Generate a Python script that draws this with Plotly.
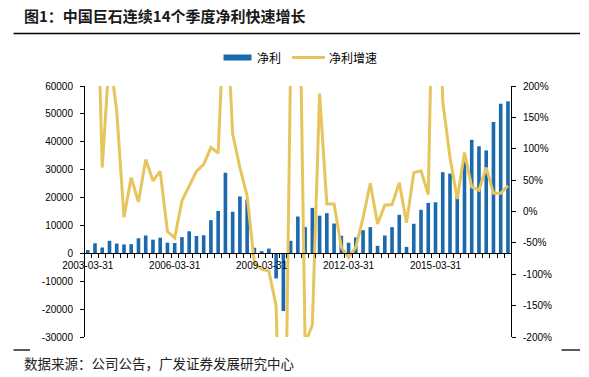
import plotly.graph_objects as go

# Quarter-end dates, 2003-03-31 .. 2017-09-30
quarters = [f"{y}-{md}" for y in range(2003, 2018) for md in ["03-31", "06-30", "09-30", "12-31"]][:59]

# 净利 (left axis)
net_profit = [1200, 3600, 2100, 4500, 3500, 3200, 3300, 5400, 6400, 4900,
              5600, 3800, 3700, 5800, 7900, 6200, 6500, 11900, 15200, 28900,
              14900, 20400, 19300, 2000, 800, 1700, -9000, -20700, 4500, 13200,
              9400, 16300, 13500, 14400, 10700, 6300, 3800, 5700, 8300, 9400,
              2700, 6400, 9400, 13800, 2300, 10600, 15600, 18100, 18300, 29100,
              28600, 20500, 33000, 40700, 38400, 36900, 47100, 53600, 54500]

# 净利增速 in % (right axis)
growth = [None, 500, 70, 250, 160, -9, 54, 15, 83, 49,
          64, -32, -42, 17, 41, 64, 75, 102, 93, 360,
          124, 70, 25, -82, -92, -95, -150, -600, 240, 550,
          -210, -181, 188, 12, 12, -57, -73, -57, -10, 45,
          -20, 10, 11, 46, -18, 62, 65, 27, 600, 175,
          86, 20, 94, 39, 34, 70, 29, 29, 41]

x_labels = ["2003-03-31", "2006-03-31", "2009-03-31", "2012-03-31", "2015-03-31"]
left_ticks = [60000, 50000, 40000, 30000, 20000, 10000, 0, -10000, -20000, -30000]
right_ticks = [200, 150, 100, 50, 0, -50, -100, -150, -200]

title_text = "图1：中国巨石连续14个季度净利快速增长"
source_text = "数据来源：公司公告，广发证券发展研究中心"
legend_names = ["净利", "净利增速"]

BLUE = "#1B6AAE"
YELLOW = "#E6C65C"
LATIN = "Liberation Sans, Arial, sans-serif"
CJK = "Noto Sans CJK SC, sans-serif"

xpos = list(range(len(quarters)))

fig = go.Figure()
fig.add_trace(go.Bar(x=xpos, y=net_profit, customdata=quarters, name=legend_names[0],
                     marker=dict(color=BLUE, line=dict(width=0)), width=0.5,
                     showlegend=False))
fig.add_trace(go.Scatter(x=xpos, y=growth, customdata=quarters, name=legend_names[1],
                         mode="lines", line=dict(color=YELLOW, width=3),
                         yaxis="y2", showlegend=False))

fig.update_layout(
    width=589, height=377,
    margin=dict(l=85, r=78, t=86, b=40),
    paper_bgcolor="white", plot_bgcolor="white",
    showlegend=False,
    xaxis=dict(
        range=[-0.38, 58.42], anchor="free", position=1/3,
        tickmode="array", tickvals=[quarters.index(l) for l in x_labels], ticktext=x_labels,
        ticks="", showline=True, linecolor="black", linewidth=1,
        showgrid=False, zeroline=False,
        tickfont=dict(family=LATIN, size=10, color="black"),
        ticklabelstandoff=3,
        minor=dict(tickmode="array", tickvals=[i + 0.5 for i in range(58)],
                   ticks="outside", ticklen=4, tickcolor="black", tickwidth=1, showgrid=False),
    ),
    yaxis=dict(
        range=[-30000, 60000], tickmode="array", tickvals=left_ticks,
        ticktext=[str(v) for v in left_ticks],
        ticks="outside", ticklen=4, tickcolor="black",
        showline=True, linecolor="black", linewidth=1,
        showgrid=False, zeroline=False,
        tickfont=dict(family=LATIN, size=10, color="black"),
        ticklabelstandoff=5,
    ),
    yaxis2=dict(
        range=[-200, 200], overlaying="y", side="right", tickmode="array",
        tickvals=right_ticks, ticktext=[f"{v}%" for v in right_ticks],
        ticks="outside", ticklen=4, tickcolor="black",
        showline=True, linecolor="black", linewidth=1,
        showgrid=False, zeroline=False,
        tickfont=dict(family=LATIN, size=10, color="black"),
        ticklabelstandoff=5,
    ),
)

shapes = [
    # title underline
    dict(type="line", xref="paper", yref="paper", x0=(13.5 - 85) / 426, x1=(580 - 85) / 426,
         y0=(337 - 33.5) / 251, y1=(337 - 33.5) / 251, line=dict(color="black", width=1.3)),
    # bottom rule fragments
    dict(type="line", xref="paper", yref="paper", x0=(13.5 - 85) / 426, x1=(30 - 85) / 426,
         y0=(337 - 350) / 251, y1=(337 - 350) / 251, line=dict(color="black", width=1.3)),
    dict(type="line", xref="paper", yref="paper", x0=(561.5 - 85) / 426, x1=(580 - 85) / 426,
         y0=(337 - 350) / 251, y1=(337 - 350) / 251, line=dict(color="black", width=1.3)),
    # legend symbols
    dict(type="rect", xref="paper", yref="paper", x0=(223.5 - 85) / 426, x1=(251.5 - 85) / 426,
         y0=(337 - 60.5) / 251, y1=(337 - 54.5) / 251, fillcolor=BLUE, line=dict(width=0)),
    dict(type="line", xref="paper", yref="paper", x0=(292 - 85) / 426, x1=(325 - 85) / 426,
         y0=(337 - 57.5) / 251, y1=(337 - 57.5) / 251, line=dict(color=YELLOW, width=3)),
]

annotations = [
    dict(text=f"<b>{title_text}</b>", xref="paper", yref="paper",
         x=(22 - 85) / 426, y=(337 - 15) / 251, xanchor="left", yanchor="middle",
         showarrow=False, font=dict(family=CJK, size=15, color="#1a1a1a")),
    dict(text=source_text, xref="paper", yref="paper",
         x=(22 - 85) / 426, y=(337 - 363) / 251, xanchor="left", yanchor="middle",
         showarrow=False, font=dict(family=CJK, size=13.5, color="#222222")),
    dict(text=legend_names[0], xref="paper", yref="paper",
         x=(254.5 - 85) / 426, y=(337 - 57.5) / 251, xanchor="left", yanchor="middle",
         showarrow=False, font=dict(family=CJK, size=12, color="black")),
    dict(text=legend_names[1], xref="paper", yref="paper",
         x=(327 - 85) / 426, y=(337 - 57.5) / 251, xanchor="left", yanchor="middle",
         showarrow=False, font=dict(family=CJK, size=12, color="black")),
]

fig.update_layout(shapes=shapes, annotations=annotations)
fig.write_html("out.html", config={"displayModeBar": False},
               post_script="document.body.style.margin='0px';document.body.style.overflow='hidden';")
